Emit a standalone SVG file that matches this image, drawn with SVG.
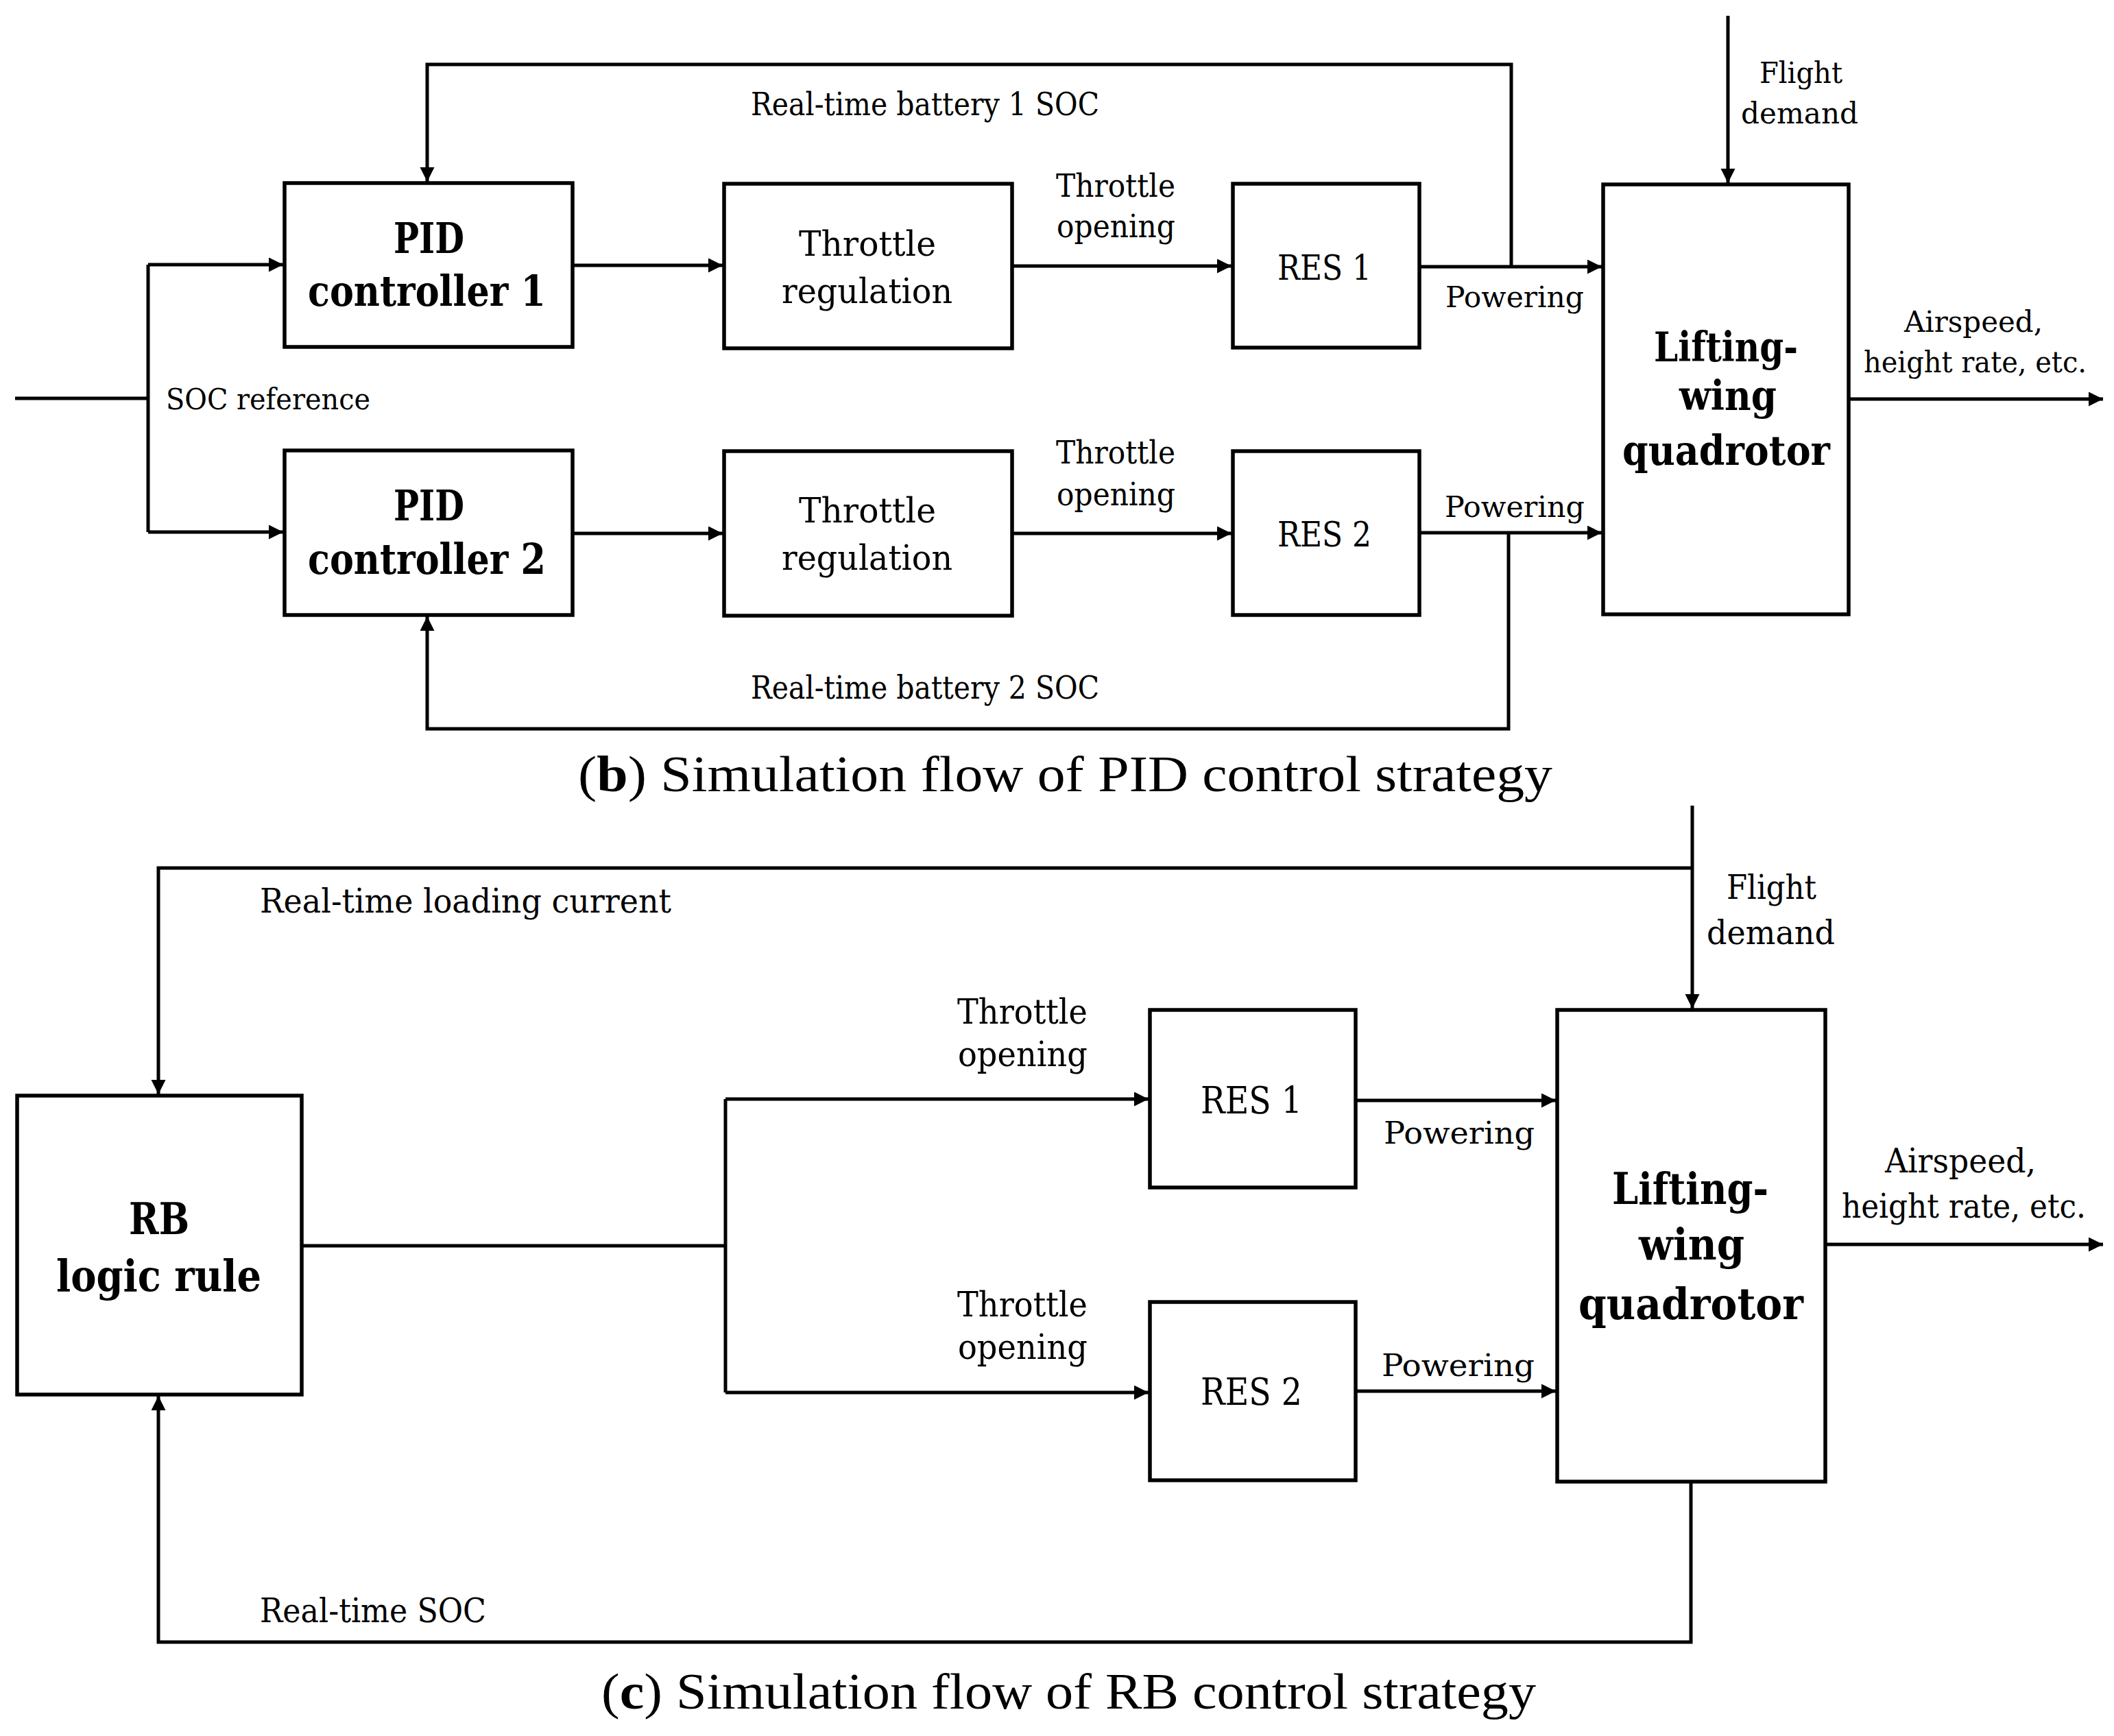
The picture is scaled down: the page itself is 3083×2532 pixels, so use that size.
<svg xmlns="http://www.w3.org/2000/svg" width="3083" height="2532" viewBox="0 0 3083 2532">
<style>
.box{fill:#fff;stroke:#000;stroke-width:5.5}
.wire{fill:none;stroke:#000;stroke-width:5}
.t{font-family:"DejaVu Serif","Liberation Serif",serif;fill:#000}
.b{font-weight:bold}
.cap{font-family:"Liberation Serif","DejaVu Serif",serif;fill:#000}
</style>
<defs>
<marker id="arr" markerUnits="userSpaceOnUse" markerWidth="22" markerHeight="22" refX="21" refY="10.5" orient="auto">
<path d="M0,0 L21,10.5 L0,21 z" fill="#000"/>
</marker>
</defs>
<rect width="3083" height="2532" fill="#fff"/>

<g id="connectors">
<!-- (b) -->
<path class="wire" d="M22,581 H216"/>
<path class="wire" d="M216,386 V776"/>
<path class="wire" d="M216,386 H413" marker-end="url(#arr)"/>
<path class="wire" d="M216,776 H413" marker-end="url(#arr)"/>
<path class="wire" d="M835,387 H1054" marker-end="url(#arr)"/>
<path class="wire" d="M835,778 H1054" marker-end="url(#arr)"/>
<path class="wire" d="M1476,388 H1796" marker-end="url(#arr)"/>
<path class="wire" d="M1476,778 H1796" marker-end="url(#arr)"/>
<path class="wire" d="M2070,389 H2336" marker-end="url(#arr)"/>
<path class="wire" d="M2070,777 H2336" marker-end="url(#arr)"/>
<path class="wire" d="M2204,389 V94 H623 V265" marker-end="url(#arr)"/>
<path class="wire" d="M2200,777 V1063 H623 V899" marker-end="url(#arr)"/>
<path class="wire" d="M2520,23 V267" marker-end="url(#arr)"/>
<path class="wire" d="M2696,582 H3067" marker-end="url(#arr)"/>
<!-- (c) -->
<path class="wire" d="M2468,1175 V1471" marker-end="url(#arr)"/>
<path class="wire" d="M2468,1266 H231 V1596" marker-end="url(#arr)"/>
<path class="wire" d="M440,1817 H1058"/>
<path class="wire" d="M1058,1603 V2031"/>
<path class="wire" d="M1058,1603 H1675" marker-end="url(#arr)"/>
<path class="wire" d="M1058,2031 H1675" marker-end="url(#arr)"/>
<path class="wire" d="M1977,1605 H2269" marker-end="url(#arr)"/>
<path class="wire" d="M1977,2029 H2269" marker-end="url(#arr)"/>
<path class="wire" d="M2662,1815 H3067" marker-end="url(#arr)"/>
<path class="wire" d="M2466,2161 V2395 H231 V2036" marker-end="url(#arr)"/>
</g>

<g id="labels-b">
<text class="t" x="1095" y="168" font-size="46" textLength="508" lengthAdjust="spacingAndGlyphs">Real-time battery 1 SOC</text>
<text class="t" x="1095" y="1019" font-size="46" textLength="508" lengthAdjust="spacingAndGlyphs">Real-time battery 2 SOC</text>
<text class="t" x="242" y="597" font-size="42" textLength="298" lengthAdjust="spacingAndGlyphs">SOC reference</text>
<text class="t" x="1540" y="287" font-size="46" textLength="174" lengthAdjust="spacingAndGlyphs">Throttle</text>
<text class="t" x="1541" y="346" font-size="46" textLength="173" lengthAdjust="spacingAndGlyphs">opening</text>
<text class="t" x="1540" y="676" font-size="46" textLength="174" lengthAdjust="spacingAndGlyphs">Throttle</text>
<text class="t" x="1541" y="737" font-size="46" textLength="173" lengthAdjust="spacingAndGlyphs">opening</text>
<text class="t" x="2108" y="448" font-size="43" textLength="202" lengthAdjust="spacingAndGlyphs">Powering</text>
<text class="t" x="2107" y="754" font-size="43" textLength="204" lengthAdjust="spacingAndGlyphs">Powering</text>
<text class="t" x="2566" y="121" font-size="43" textLength="121" lengthAdjust="spacingAndGlyphs">Flight</text>
<text class="t" x="2539" y="180" font-size="43" textLength="171" lengthAdjust="spacingAndGlyphs">demand</text>
<text class="t" x="2777" y="484" font-size="43" textLength="202" lengthAdjust="spacingAndGlyphs">Airspeed,</text>
<text class="t" x="2718" y="543" font-size="43" textLength="325" lengthAdjust="spacingAndGlyphs">height rate, etc.</text>
</g>

<g id="pid1">
<rect class="box" x="415" y="267" width="420" height="239"/>
<text class="t b" x="574" y="369" font-size="61" textLength="103" lengthAdjust="spacingAndGlyphs">PID</text>
<text class="t b" x="449" y="446" font-size="61" textLength="347" lengthAdjust="spacingAndGlyphs">controller 1</text>
</g>
<g id="pid2">
<rect class="box" x="415" y="657" width="420" height="240"/>
<text class="t b" x="574" y="759" font-size="61" textLength="103" lengthAdjust="spacingAndGlyphs">PID</text>
<text class="t b" x="449" y="837" font-size="61" textLength="347" lengthAdjust="spacingAndGlyphs">controller 2</text>
</g>
<g id="throttle1">
<rect class="box" x="1056" y="268" width="420" height="240"/>
<text class="t" x="1165" y="373" font-size="50" textLength="200" lengthAdjust="spacingAndGlyphs">Throttle</text>
<text class="t" x="1140" y="442" font-size="50" textLength="249" lengthAdjust="spacingAndGlyphs">regulation</text>
</g>
<g id="throttle2">
<rect class="box" x="1056" y="658" width="420" height="240"/>
<text class="t" x="1165" y="762" font-size="50" textLength="200" lengthAdjust="spacingAndGlyphs">Throttle</text>
<text class="t" x="1140" y="831" font-size="50" textLength="249" lengthAdjust="spacingAndGlyphs">regulation</text>
</g>
<g id="res1-b">
<rect class="box" x="1798" y="268" width="272" height="239"/>
<text class="t" x="1863" y="408" font-size="50" textLength="137" lengthAdjust="spacingAndGlyphs">RES 1</text>
</g>
<g id="res2-b">
<rect class="box" x="1798" y="658" width="272" height="239"/>
<text class="t" x="1863" y="797" font-size="50" textLength="137" lengthAdjust="spacingAndGlyphs">RES 2</text>
</g>
<g id="lifting-b">
<rect class="box" x="2338" y="269" width="358" height="627"/>
<text class="t b" x="2412" y="527" font-size="59" textLength="210" lengthAdjust="spacingAndGlyphs">Lifting-</text>
<text class="t b" x="2449" y="598" font-size="59" textLength="142" lengthAdjust="spacingAndGlyphs">wing</text>
<text class="t b" x="2366" y="678" font-size="59" textLength="303" lengthAdjust="spacingAndGlyphs">quadrotor</text>
</g>
<g id="caption-b">
<text class="cap" x="843" y="1154" font-size="74" textLength="1421" lengthAdjust="spacingAndGlyphs">(<tspan font-weight="bold">b</tspan>) Simulation flow of PID control strategy</text>
</g>

<g id="labels-c">
<text class="t" x="379" y="1331" font-size="48" textLength="600" lengthAdjust="spacingAndGlyphs">Real-time loading current</text>
<text class="t" x="379" y="2366" font-size="48" textLength="330" lengthAdjust="spacingAndGlyphs">Real-time SOC</text>
<text class="t" x="2518" y="1311" font-size="48" textLength="131" lengthAdjust="spacingAndGlyphs">Flight</text>
<text class="t" x="2489" y="1377" font-size="48" textLength="187" lengthAdjust="spacingAndGlyphs">demand</text>
<text class="t" x="1396" y="1493" font-size="50" textLength="190" lengthAdjust="spacingAndGlyphs">Throttle</text>
<text class="t" x="1397" y="1555" font-size="50" textLength="189" lengthAdjust="spacingAndGlyphs">opening</text>
<text class="t" x="1396" y="1920" font-size="50" textLength="190" lengthAdjust="spacingAndGlyphs">Throttle</text>
<text class="t" x="1397" y="1982" font-size="50" textLength="189" lengthAdjust="spacingAndGlyphs">opening</text>
<text class="t" x="2018" y="1668" font-size="45" textLength="220" lengthAdjust="spacingAndGlyphs">Powering</text>
<text class="t" x="2015" y="2007" font-size="45" textLength="223" lengthAdjust="spacingAndGlyphs">Powering</text>
<text class="t" x="2749" y="1710" font-size="48" textLength="220" lengthAdjust="spacingAndGlyphs">Airspeed,</text>
<text class="t" x="2686" y="1776" font-size="48" textLength="356" lengthAdjust="spacingAndGlyphs">height rate, etc.</text>
</g>

<g id="rb">
<rect class="box" x="25" y="1598" width="415" height="436"/>
<text class="t b" x="188" y="1800" font-size="64" textLength="88" lengthAdjust="spacingAndGlyphs">RB</text>
<text class="t b" x="82" y="1883" font-size="64" textLength="299" lengthAdjust="spacingAndGlyphs">logic rule</text>
</g>
<g id="res1-c">
<rect class="box" x="1677" y="1473" width="300" height="259"/>
<text class="t" x="1751" y="1624" font-size="55" textLength="148" lengthAdjust="spacingAndGlyphs">RES 1</text>
</g>
<g id="res2-c">
<rect class="box" x="1677" y="1899" width="300" height="260"/>
<text class="t" x="1751" y="2049" font-size="55" textLength="148" lengthAdjust="spacingAndGlyphs">RES 2</text>
</g>
<g id="lifting-c">
<rect class="box" x="2271" y="1473" width="391" height="688"/>
<text class="t b" x="2351" y="1756" font-size="64" textLength="228" lengthAdjust="spacingAndGlyphs">Lifting-</text>
<text class="t b" x="2390" y="1837" font-size="64" textLength="154" lengthAdjust="spacingAndGlyphs">wing</text>
<text class="t b" x="2302" y="1924" font-size="64" textLength="328" lengthAdjust="spacingAndGlyphs">quadrotor</text>
</g>
<g id="caption-c">
<text class="cap" x="877" y="2492" font-size="74" textLength="1363" lengthAdjust="spacingAndGlyphs">(<tspan font-weight="bold">c</tspan>) Simulation flow of RB control strategy</text>
</g>
</svg>
